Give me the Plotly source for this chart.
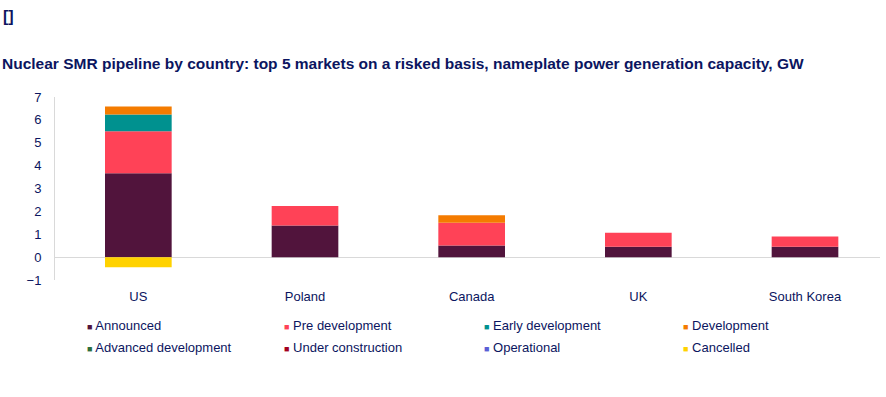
import plotly.graph_objects as go

countries = ["US", "Poland", "Canada", "UK", "South Korea"]
stages = ["Announced", "Pre development", "Early development", "Development",
          "Advanced development", "Under construction", "Operational", "Cancelled"]
colors = ["#51143C", "#FF4257", "#00918F", "#F47B00",
          "#2E6E3C", "#A3001E", "#5A5FD6", "#FFD200"]

announced = [3.67, 1.38, 0.51, 0.45, 0.45]
pre_development = [1.83, 0.85, 0.99, 0.62, 0.45]
early_development = [0.74, 0.0, 0.0, 0.0, 0.0]
development = [0.35, 0.0, 0.33, 0.0, 0.0]
advanced_development = [0.0, 0.0, 0.0, 0.0, 0.0]
under_construction = [0.0, 0.0, 0.0, 0.0, 0.0]
operational = [0.0, 0.0, 0.0, 0.0, 0.0]
cancelled = [-0.44, 0.0, 0.0, 0.0, 0.0]

series = [announced, pre_development, early_development, development,
          advanced_development, under_construction, operational, cancelled]

y_ticks = [-1, 0, 1, 2, 3, 4, 5, 6, 7]

TEXT = "#0B1560"
FONT = "Liberation Sans, Arial, sans-serif"

W, H = 886, 397
ML, MR, MT, MB = 55, 6, 97, 117
PW, PH = W - ML - MR, H - MT - MB


def px(x):
    return (x - ML) / PW


def py(y):
    return (H - MB - y) / PH


fig = go.Figure()
for name, vals, col in zip(stages, series, colors):
    fig.add_trace(go.Bar(x=countries, y=vals, name=name, marker_color=col,
                         marker_line_width=0, showlegend=False))

# legend built as annotations (small square + label), 4 per row
leg_x = [85, 282, 482, 681]
leg_y = [325, 347]
for i, (name, col) in enumerate(zip(stages, colors)):
    r, c = divmod(i, 4)
    fig.add_annotation(
        x=px(leg_x[c]), y=py(leg_y[r]), xref="paper", yref="paper",
        xanchor="left", yanchor="middle", showarrow=False,
        text=f"<span style='color:{col};font-size:9px'>■</span> {name}",
        font=dict(family=FONT, size=13, color=TEXT))

fig.add_annotation(x=px(1), y=py(17), xref="paper", yref="paper",
                   xanchor="left", yanchor="middle", showarrow=False,
                   text="<b>[]</b>", font=dict(family=FONT, size=16, color=TEXT))
fig.add_annotation(x=px(0), y=py(63), xref="paper", yref="paper",
                   xanchor="left", yanchor="middle", showarrow=False,
                   text="<b>Nuclear SMR pipeline by country: top 5 markets on a risked basis, nameplate power generation capacity, GW</b>",
                   font=dict(family=FONT, size=15.5, color=TEXT))

fig.update_layout(
    barmode="relative",
    bargap=0.6,
    width=W, height=H,
    margin=dict(l=ML, r=MR, t=MT, b=MB),
    paper_bgcolor="white", plot_bgcolor="white",
    font=dict(family=FONT, size=13, color=TEXT),
    xaxis=dict(range=[-0.5, 4.45], showline=False, ticks="", showgrid=False,
               tickfont=dict(size=13, color=TEXT), ticklabelstandoff=7),
    yaxis=dict(range=[-1, 7], tickvals=y_ticks, showgrid=False, showline=True,
               linecolor="#D9D9D9", linewidth=1, zeroline=True,
               zerolinecolor="#D9D9D9", zerolinewidth=1, ticks="",
               ticklabelstandoff=10, tickfont=dict(size=13, color=TEXT)),
)

fig.write_html("out.html", config={"displayModeBar": False},
               post_script="document.body.style.margin='0';")
